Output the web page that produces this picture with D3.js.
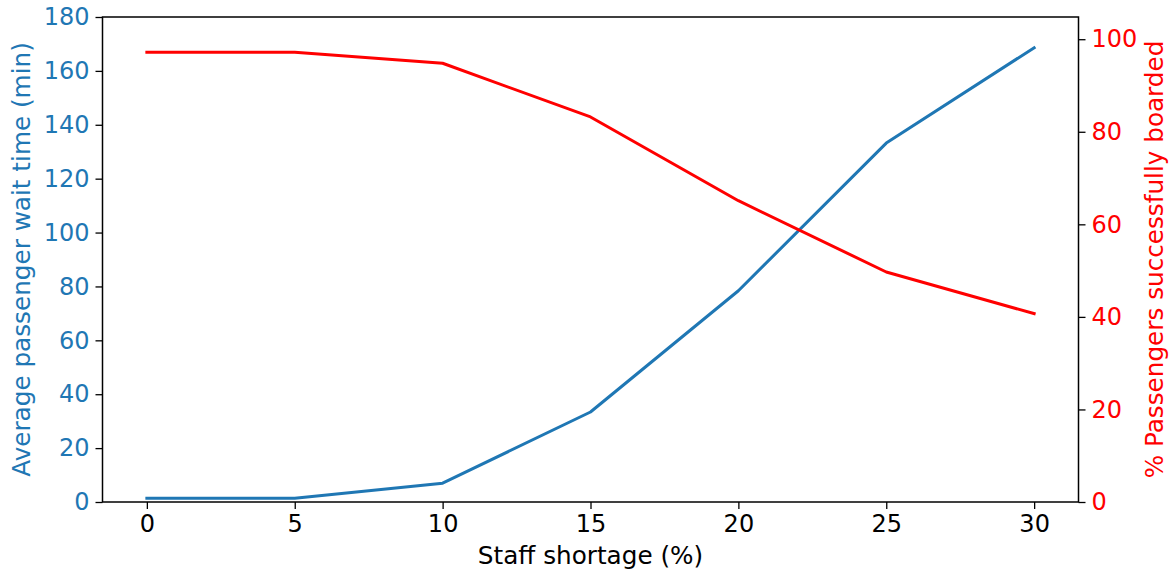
<!DOCTYPE html>
<html><head><meta charset="utf-8">
<script src="https://cdn.jsdelivr.net/npm/d3@7"></script>
<style>body{margin:0;background:#fff}svg{display:block}text{font-family:"DejaVu Sans",sans-serif}</style>
</head><body>
<script>
const shortage = [0, 5, 10, 15, 20, 25, 30];
const waitTime = [1.4, 1.4, 7.0, 33.4, 78.4, 133.2, 168.6];
const boarded = [97.2, 97.2, 94.8, 83.2, 65.1, 49.7, 40.7];
const xTicks = [0, 5, 10, 15, 20, 25, 30];
const yLeftTicks = [0, 20, 40, 60, 80, 100, 120, 140, 160, 180];
const yRightTicks = [0, 20, 40, 60, 80, 100];

const W = 1171, H = 571;
const L = 102.5, R = 1078.5, T = 17, B = 502;
const blue = "#1f77b4", red = "#ff0000";
const tickFont = 24, labelFont = 24.7;

const svg = d3.select("body").append("svg").attr("width", W).attr("height", H);
const x = d3.scaleLinear().domain([-1.5, 31.5]).range([L, R]);
const yL = d3.scaleLinear().domain([0, 180]).range([B, T]);
const yR = d3.scaleLinear().domain([0, 104.8]).range([B, T]);

const line = (yS) => d3.line().x((d) => x(d[0])).y((d) => yS(d[1]));
svg.append("path").datum(shortage.map((s, i) => [s, waitTime[i]]))
  .attr("d", line(yL)).attr("fill", "none").attr("stroke", blue).attr("stroke-width", 3).attr("stroke-linejoin", "round").attr("stroke-linecap", "square");
svg.append("path").datum(shortage.map((s, i) => [s, boarded[i]]))
  .attr("d", line(yR)).attr("fill", "none").attr("stroke", red).attr("stroke-width", 3).attr("stroke-linejoin", "round").attr("stroke-linecap", "square");

function styleAxis(g, color) {
  g.select(".domain").remove();
  g.selectAll(".tick line").attr("stroke", "#000").attr("stroke-width", 1.3);
  g.selectAll(".tick text").attr("fill", color).attr("font-size", tickFont).attr("font-family", "DejaVu Sans");
}
const gx = svg.append("g").attr("transform", `translate(0,${B})`)
  .call(d3.axisBottom(x).tickValues(xTicks).tickFormat(d3.format("d")).tickSize(7).tickPadding(6));
styleAxis(gx, "#000");
const gl = svg.append("g").attr("transform", `translate(${L},0)`)
  .call(d3.axisLeft(yL).tickValues(yLeftTicks).tickFormat(d3.format("d")).tickSize(7).tickPadding(6));
styleAxis(gl, blue);
const gr = svg.append("g").attr("transform", `translate(${R},0)`)
  .call(d3.axisRight(yR).tickValues(yRightTicks).tickFormat(d3.format("d")).tickSize(7).tickPadding(6));
styleAxis(gr, red);

svg.append("rect").attr("x", L).attr("y", T).attr("width", R - L).attr("height", B - T)
  .attr("fill", "none").attr("stroke", "#000").attr("stroke-width", 1.5);

svg.append("text").attr("x", (L + R) / 2).attr("y", 564).attr("text-anchor", "middle")
  .attr("font-size", labelFont).attr("fill", "#000").text("Staff shortage (%)");
svg.append("text").attr("transform", `translate(30,${(T + B) / 2}) rotate(-90)`).attr("text-anchor", "middle")
  .attr("font-size", labelFont).attr("fill", blue).text("Average passenger wait time (min)");
svg.append("text").attr("transform", `translate(1163,${(T + B) / 2}) rotate(-90)`).attr("text-anchor", "middle")
  .attr("font-size", labelFont).attr("fill", red).text("% Passengers successfully boarded");
</script>
</body></html>
